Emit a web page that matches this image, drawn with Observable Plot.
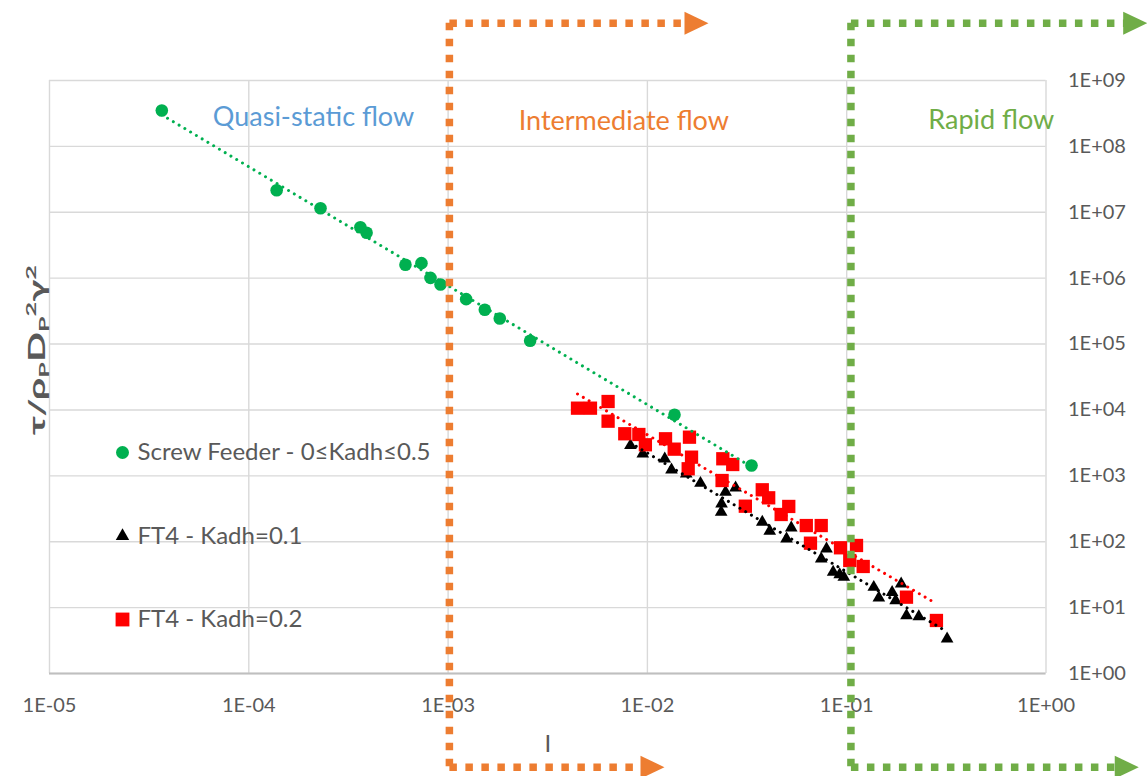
<!DOCTYPE html>
<html><head><meta charset="utf-8">
<script src="https://cdn.jsdelivr.net/npm/d3@7"></script>
<script src="https://cdn.jsdelivr.net/npm/@observablehq/plot@0.6"></script>
<style>
html,body{margin:0;padding:0;background:#fff;}
#chart{position:relative;width:1147px;height:776px;overflow:hidden;}
svg{display:block;}
</style></head><body><div id="chart"></div>
<script>
// ---- tick values ----
const xTicks = [1e-5, 1e-4, 1e-3, 1e-2, 1e-1, 1];
const yTicks = [1, 1e1, 1e2, 1e3, 1e4, 1e5, 1e6, 1e7, 1e8, 1e9];

// ---- Screw Feeder - 0≤Kadh≤0.5 ----
const screwI   = [3.66e-5, 1.38e-4, 2.29e-4, 3.63e-4, 3.90e-4, 6.11e-4, 7.35e-4, 8.16e-4, 9.16e-4, 1.232e-3, 1.528e-3, 1.817e-3, 2.58e-3, 1.368e-2, 3.33e-2];
const screwTau = [3.51e8, 2.16e7, 1.15e7, 5.94e6, 4.89e6, 1.60e6, 1.69e6, 1.01e6, 8.02e5, 4.80e5, 3.31e5, 2.44e5, 1.12e5, 8.44e3, 1.435e3];

// ---- FT4 - Kadh=0.1 ----
const ft4aI   = [8.22e-3, 9.48e-3, 1.222e-2, 1.321e-2, 1.566e-2, 1.846e-2, 2.466e-2, 2.77e-2, 2.355e-2, 2.345e-2, 3.77e-2, 4.11e-2, 5.27e-2, 4.99e-2, 7.92e-2, 7.45e-2, 8.55e-2, 9.22e-2, 9.67e-2, 0.1367, 0.145, 0.169, 0.176, 0.1876, 0.1995, 0.230, 0.319];
const ft4aTau = [2890, 2160, 1815, 1236, 1074, 773, 565, 659, 377, 281, 198, 145, 163, 111, 78.1, 55.1, 34.5, 31.8, 29.0, 20.4, 14.1, 17.1, 12.8, 23.0, 7.59, 7.33, 3.37];

// ---- FT4 - Kadh=0.2 ----
const ft4bI   = [4.46e-3, 5.18e-3, 6.35e-3, 6.35e-3, 7.70e-3, 9.06e-3, 9.77e-3, 1.233e-2, 1.363e-2, 1.626e-2, 1.665e-2, 1.602e-2, 2.39e-2, 2.68e-2, 2.37e-2, 3.10e-2, 3.77e-2, 4.06e-2, 5.12e-2, 4.69e-2, 6.27e-2, 7.45e-2, 6.58e-2, 9.31e-2, 0.112, 0.1036, 0.121, 0.1995, 0.282];
const ft4bTau = [1.064e4, 1.064e4, 1.343e4, 6750, 4350, 4240, 2960, 3650, 2540, 3860, 1920, 1280, 1815, 1486, 849, 346, 614, 464, 343, 259, 176, 176, 95, 80.9, 87.7, 51.9, 42.1, 14.4, 6.38];

// ---- legend / regimes ----
const seriesNames  = ["Screw Feeder - 0≤Kadh≤0.5", "FT4 - Kadh=0.1", "FT4 - Kadh=0.2"];
const seriesColors = ["#00B050", "#000000", "#FF0000"];
const regimeNames  = ["Quasi-static flow", "Intermediate flow", "Rapid flow"];
const regimeColors = ["#5B9BD5", "#ED7D31", "#70AD47"];
const regimeBounds = [1.015e-3, 1.05e-1];         // I at which regime lines are drawn
const topArrowLineEnd = [1.645e-2, 2.65];          // I where top dashed arrow line ends
const topArrowTip     = [2.025e-2, 3.22];          // I of top arrow tip
const botArrowLineEnd = [1.013e-2, 2.42];
const botArrowTip     = [1.218e-2, 2.92];

const pts = (xs, ys) => xs.map((x, i) => ({x, y: ys[i]}));
function powerFit(xs, ys) {
  const lx = xs.map(Math.log10), ly = ys.map(Math.log10);
  const mx = d3.mean(lx), my = d3.mean(ly);
  const b = d3.sum(lx, (v, i) => (v - mx) * (ly[i] - my)) / d3.sum(lx, v => (v - mx) ** 2);
  const a = my - b * mx;
  return [d3.min(xs), d3.max(xs)].map(x => ({x, y: 10 ** (a + b * Math.log10(x))}));
}
const fmt = v => { const e = Math.round(Math.log10(v)); return "1E" + (e < 0 ? "-" : "+") + String(Math.abs(e)).padStart(2, "0"); };

const arrowHead = {draw(ctx, size) { const s = Math.sqrt(size / Math.PI) / 10; ctx.moveTo(12*s, 0); ctx.lineTo(-12*s, -11.5*s); ctx.lineTo(-12*s, 11.5*s); ctx.closePath(); }};

const FONT = "Lato, 'Open Sans', sans-serif";
const GRAY = "#595959";
const dash = {strokeWidth: 7.5, strokeDasharray: "7.5,8.5"};
const topDy = -57.3, botDy = 93.7;

const regimeMarks = regimeBounds.flatMap((b, i) => {
  const c = regimeColors[i + 1];
  return [
    Plot.ruleX([b], {x: d => d, stroke: c, ...dash, insetTop: topDy, insetBottom: -botDy}),
    Plot.link([b], {x1: d => d, x2: () => topArrowLineEnd[i], y1: () => 1e9, y2: () => 1e9, dy: topDy, stroke: c, ...dash}),
    Plot.link([b], {x1: d => d, x2: () => botArrowLineEnd[i], y1: () => 1, y2: () => 1, dy: botDy, stroke: c, ...dash}),
    Plot.dot([topArrowTip[i]], {x: d => d, y: () => 1e9, dy: topDy, dx: -12, r: 10, symbol: arrowHead, fill: c, stroke: "none"}),
    Plot.dot([botArrowTip[i]], {x: d => d, y: () => 1, dy: botDy, dx: -12, r: 10, symbol: arrowHead, fill: c, stroke: "none"})
  ];
});

const dotted = c => ({stroke: c, strokeWidth: 3, strokeDasharray: "0.01,6.7", strokeLinecap: "round"});

const legendY = [372, 455.5, 539];
const legendSym = ["circle", "triangle", "square"];
const legendR = [6.5, 5, 7.8];
const regimeDx = [264, 574.3, 941.8];
const regimeDy = [36.5, 40.5, 40];

const chart = Plot.plot({
  width: 1147, height: 776,
  marginLeft: 49, marginRight: 101.5, marginTop: 80, marginBottom: 103,
  style: {fontFamily: FONT, background: "#fff", overflow: "visible"},
  x: {type: "log", domain: [1e-5, 1], axis: null},
  y: {type: "log", domain: [1, 1e9], axis: null},
  marks: [
    Plot.ruleX(xTicks, {stroke: "#D9D9D9", strokeWidth: 1.4}),
    Plot.ruleY(yTicks, {stroke: "#D9D9D9", strokeWidth: 1.4}),
    Plot.ruleY([1], {stroke: "#BFBFBF", strokeWidth: 2}),
    // tick labels
    Plot.text(xTicks, {x: d => d, text: fmt, frameAnchor: "bottom", dy: 32, lineAnchor: "middle", fontSize: 20, fill: GRAY}),
    Plot.text(yTicks, {y: d => d, text: fmt, frameAnchor: "right", dx: 22, textAnchor: "start", lineAnchor: "middle", fontSize: 20, fill: GRAY}),
    Plot.text(["I"], {text: d => d, frameAnchor: "bottom", dy: 71, lineAnchor: "middle", fontSize: 24, fill: GRAY}),
    // regime labels
    ...regimeNames.map((n, i) => Plot.text([n], {text: d => d, frameAnchor: "top-left", dx: regimeDx[i], dy: regimeDy[i], textAnchor: "middle", lineAnchor: "middle", fontSize: 27, fill: regimeColors[i]})),
    // data
    Plot.dot(pts(screwI, screwTau), {x: "x", y: "y", r: 6.3, symbol: "circle", fill: seriesColors[0]}),
    Plot.dot(pts(ft4aI, ft4aTau), {x: "x", y: "y", r: 4.7, symbol: "triangle", fill: seriesColors[1]}),
    Plot.dot(pts(ft4bI, ft4bTau), {x: "x", y: "y", r: 7.5, symbol: "square", fill: seriesColors[2]}),
    // trendlines
    Plot.line(powerFit(screwI, screwTau), {x: "x", y: "y", ...dotted(seriesColors[0])}),
    Plot.line(powerFit(ft4aI, ft4aTau), {x: "x", y: "y", ...dotted(seriesColors[1])}),
    Plot.line(powerFit(ft4bI, ft4bTau), {x: "x", y: "y", ...dotted(seriesColors[2])}),
    // regime dividers
    ...regimeMarks,
    // legend
    ...seriesNames.flatMap((n, i) => [
      Plot.dot([n], {frameAnchor: "top-left", dx: 73, dy: legendY[i], r: legendR[i], symbol: legendSym[i], fill: seriesColors[i]}),
      Plot.text([n], {text: d => d, frameAnchor: "top-left", dx: 88, dy: legendY[i], textAnchor: "start", lineAnchor: "middle", fontSize: 24, fill: GRAY})
    ])
  ]
});
document.getElementById("chart").appendChild(chart);

// y-axis title with sub/superscripts (stretched along its length as in the source)
const svg = d3.select(chart);
const t = svg.append("text")
  .attr("transform", "translate(45,350) rotate(-90) scale(1.8,1)")
  .attr("text-anchor", "middle")
  .attr("font-family", FONT).attr("font-weight", "bold").attr("font-size", 22).attr("fill", GRAY);
t.append("tspan").text("τ/ρ");
t.append("tspan").attr("font-size", 14).attr("dy", 4).text("P");
t.append("tspan").attr("dy", -4).text("D");
t.append("tspan").attr("font-size", 14).attr("dy", 4).text("P");
t.append("tspan").attr("font-size", 14).attr("dy", -13).text("2");
t.append("tspan").attr("dy", 9).text("γ");
t.append("tspan").attr("font-size", 14).attr("dy", -9).text("2");
</script>
</body></html>
